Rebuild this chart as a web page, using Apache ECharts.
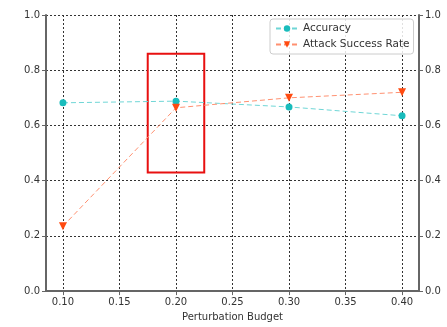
<!DOCTYPE html>
<html>
<head>
<meta charset="utf-8">
<script src="https://cdn.jsdelivr.net/npm/echarts@6/dist/echarts.min.js"></script>
<style>
  html, body { margin: 0; padding: 0; background: #fff; }
  #chart { width: 447px; height: 327px; }
</style>
</head>
<body>
<div id="chart"></div>
<script>
var budgets = [0.10, 0.20, 0.30, 0.40];
var accuracy = [0.682, 0.688, 0.667, 0.635];
var attackRate = [0.235, 0.664, 0.700, 0.720];
// highlighted region (data coordinates)
var boxX = [0.175, 0.225];
var boxY = [0.43, 0.86];

function pairs(xs, ys) {
    return xs.map(function (x, i) { return [x, ys[i]]; });
}

var chart = echarts.init(document.getElementById('chart'));
var font = 'DejaVu Sans';
var dotted = { color: '#333', type: [2, 2], width: 1 };
var spine = { show: true, lineStyle: { color: '#666', width: 2 } };

function yAxisAt(pos, grid) {
    return {
        type: 'value', min: 0, max: 1, interval: 0.2, position: pos,
        axisLine: spine,
        axisTick: { show: true, length: 4, lineStyle: { color: '#666' } },
        axisLabel: {
            fontFamily: font, fontSize: 10, color: '#333', margin: 6,
            formatter: function (v) { return v.toFixed(1); }
        },
        splitLine: { show: grid, lineStyle: dotted }
    };
}

chart.setOption({
    animation: false,
    textStyle: { fontFamily: font },
    grid: { left: 46, right: 28, top: 15, bottom: 35 },
    legend: {
        orient: 'vertical',
        left: 270,
        top: 19,
        padding: [4, 4, 4, 5],
        itemGap: 5,
        itemWidth: 22,
        itemHeight: 8,
        backgroundColor: 'rgba(255,255,255,0.85)',
        borderColor: '#ccc',
        borderWidth: 1,
        borderRadius: 3,
        textStyle: { fontFamily: font, fontSize: 10.5, color: '#333' },
        data: ['Accuracy', 'Attack Success Rate']
    },
    xAxis: [
        {
            type: 'value',
            min: 0.085,
            max: 0.415,
            splitNumber: 7,
            name: 'Perturbation Budget',
            nameLocation: 'middle',
            nameGap: 20,
            nameTextStyle: { fontFamily: font, fontSize: 10, color: '#333' },
            axisLine: spine,
            axisTick: { show: true, length: 4, lineStyle: { color: '#666' } },
            axisLabel: {
                fontFamily: font, fontSize: 10, color: '#333', margin: 6,
                showMinLabel: false, showMaxLabel: false,
                formatter: function (v) { return v.toFixed(2); }
            },
            splitLine: { show: true, lineStyle: dotted }
        },
        {
            type: 'value', min: 0.085, max: 0.415, position: 'top',
            axisLine: { show: true, lineStyle: { color: '#666', width: 1.5 } },
            axisTick: { show: false },
            axisLabel: { show: false },
            splitLine: { show: false }
        }
    ],
    yAxis: [yAxisAt('left', true), yAxisAt('right', false)],
    series: [
        {
            name: 'Accuracy',
            type: 'line',
            data: pairs(budgets, accuracy),
            symbol: 'circle',
            symbolSize: 7,
            itemStyle: { color: '#19bcbc' },
            lineStyle: { color: '#6fd6d6', width: 1, type: [5, 3] }
        },
        {
            name: 'Attack Success Rate',
            type: 'line',
            data: pairs(budgets, attackRate),
            symbol: 'triangle',
            symbolRotate: 180,
            symbolSize: 8,
            itemStyle: { color: '#ff4a10' },
            lineStyle: { color: '#ff9070', width: 1, type: [5, 3] },
            markArea: {
                silent: true,
                itemStyle: { color: 'rgba(0,0,0,0)', borderColor: '#e81010', borderWidth: 2 },
                data: [[{ coord: [boxX[0], boxY[0]] }, { coord: [boxX[1], boxY[1]] }]]
            }
        }
    ]
});
</script>
</body>
</html>
